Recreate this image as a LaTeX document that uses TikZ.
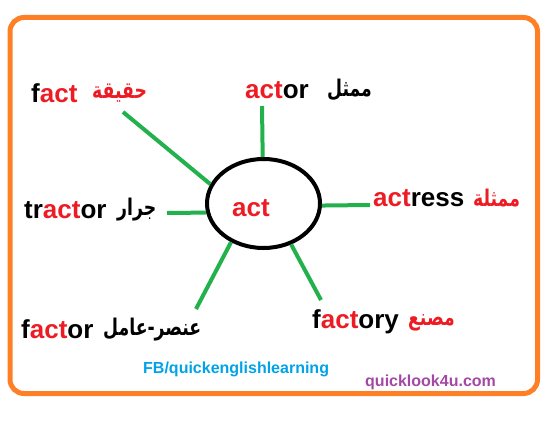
\documentclass[tikz,border=0pt]{standalone}
\usepackage{fontspec}
\setmainfont{Liberation Sans}
\newfontfamily\arabicfont[Script=Arabic,FakeStretch=0.75]{DejaVu Sans}
\TeXXeTstate=1
\usetikzlibrary{shapes.geometric}
\definecolor{frameOrange}{RGB}{255,127,39}
\definecolor{branchGreen}{RGB}{34,177,76}
\definecolor{actRed}{RGB}{237,28,36}
\definecolor{fbBlue}{RGB}{0,162,232}
\definecolor{sitePurple}{RGB}{163,73,164}
\newcommand\actpart{\textcolor{actRed}{act}}

\begin{document}
\begin{tikzpicture}[x=1pt,y=-1pt,
		hub/.style={ellipse,draw=black,line width=4pt,minimum width=113pt,minimum height=89pt,inner sep=0pt},
		branch/.style={draw=branchGreen,line width=4pt},
		word/.style={anchor=base west,inner sep=0pt,font=\fontsize{26}{26}\selectfont\bfseries},
		meaning/.style={anchor=base west,inner sep=0pt,font=\fontsize{23}{23}\selectfont\arabicfont\bfseries},
		credit/.style={anchor=base west,inner sep=0pt,font=\fontsize{16}{16}\selectfont\bfseries}]
		
		\useasboundingbox (0,0) rectangle (553,427);
		
		% orange frame
		\draw[frameOrange,line width=5pt,rounded corners=14pt] (10,17.5) rectangle (537.5,393.5);
		
		% root in the middle
		\node[hub] (act) at (263.5,203.5) {};
		\node[word,font=\fontsize{26}{26}\selectfont\bfseries\color{actRed}] (root) at (232,217) {act};
		
		% derived words and their meanings
		\node[word] (fact) at (31,103) {f\actpart};
		\node[meaning,text=actRed] (factAr) at (92,99) {\beginR حقيقة\endR};
		
		\node[word] (actor) at (245,99) {\actpart or};
		\node[meaning] (actorAr) at (327,97) {\beginR ممثل\endR};
		
		\node[word] (actress) at (373,207) {\actpart ress};
		\node[meaning,text=actRed] (actressAr) at (473,207) {\beginR ممثلة\endR};
		
		\node[word] (tractor) at (24,219) {tr\actpart or};
		\node[meaning] (tractorAr) at (117,216) {\beginR جرار\endR};
		
		\node[word] (factor) at (21,338) {f\actpart or};
		\node[meaning] (factorAr) at (103,335) {\beginR عنصر-عامل\endR};
		
		\node[word] (factory) at (312,328) {f\actpart ory};
		\node[meaning,text=actRed] (factoryAr) at (408,325) {\beginR مصنع\endR};
		
		% free ends of the green spokes
		\coordinate (factTip) at (123,112);
		\coordinate (actorTip) at (262,106);
		\coordinate (actressTip) at (370,205);
		\coordinate (tractorTip) at (167,213);
		\coordinate (factorTip) at (196,309);
		\coordinate (factoryTip) at (321,300);
		
		% spokes from the ellipse
		\foreach \ang/\tip in {160/factTip, 91/actorTip, 358/actressTip, 189/tractorTip, 230/factorTip, 304/factoryTip}
		{
			\draw[branch] (act.\ang) -- (\tip);
		}
		
		% credits
		\node[credit,text=fbBlue] (fb) at (143,373) {FB/quickenglishlearning};
		\node[credit,text=sitePurple] (site) at (365,386) {quicklook4u.com};
		
	\end{tikzpicture}
\end{document}
